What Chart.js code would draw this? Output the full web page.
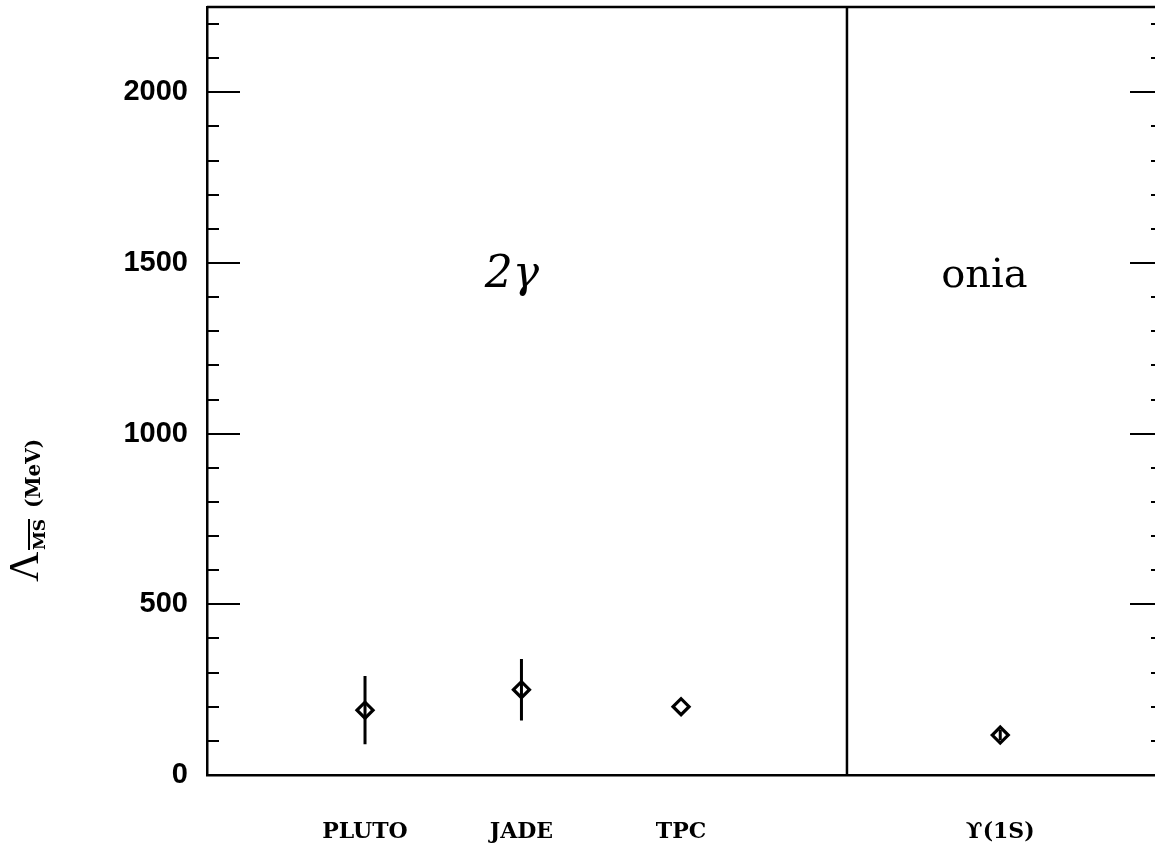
<!DOCTYPE html>
<html>
<head>
<meta charset="utf-8">
<script src="https://cdn.jsdelivr.net/npm/chart.js@4/dist/chart.umd.min.js"></script>
<style>
  html, body { margin: 0; padding: 0; background: #fff; overflow: hidden; }
  #wrap { width: 1170px; height: 855px; }
</style>
</head>
<body>
<div id="wrap"><canvas id="chart" width="1170" height="855"></canvas></div>
<script>
// Lambda (MS-bar) from two-photon and onia measurements
const experiments = ['PLUTO', 'JADE', 'TPC', '\u03D2(1S)'];
const xPos = [1.0, 1.99, 3.0, 5.02];
const lambda = [190, 250, 200, 117];
const errLow = [100, 90, 0, 15];
const errHigh = [100, 90, 0, 15];

// group headings and the line separating them
const groupLabels = ['2\u03B3', 'onia'];
const groupX = [1.93, 4.92];
const groupY = [1430, 1430];
const dividerX = 4.05;

const yMajor = [0, 500, 1000, 1500, 2000];
const yMin = 0;
const yMax = 2250;
const xMin = 0;
const xMax = 6.05;

const INK = '#000';

const points = xPos.map(function (x, i) { return { x: x, y: lambda[i] }; });

// frame, inward ticks on both sides, group divider
const framePlugin = {
  id: 'frame',
  afterDraw: function (chart) {
    var ctx = chart.ctx;
    var a = chart.chartArea;
    var ys = chart.scales.y;
    var xs = chart.scales.x;
    ctx.save();
    ctx.strokeStyle = INK;
    ctx.lineWidth = 2.5;
    ctx.beginPath();
    ctx.moveTo(a.left, a.top); ctx.lineTo(a.right, a.top);
    ctx.moveTo(a.right, a.top); ctx.lineTo(a.right, a.bottom);
    var dx = xs.getPixelForValue(dividerX);
    ctx.moveTo(dx, a.top); ctx.lineTo(dx, a.bottom);
    ctx.stroke();

    ctx.lineWidth = 2;
    ctx.beginPath();
    for (var v = 100; v < yMax; v += 100) {
      var py = Math.round(ys.getPixelForValue(v));
      var len = (v % 500 === 0) ? 33 : 12;
      ctx.moveTo(a.left, py); ctx.lineTo(a.left + len, py);
      ctx.moveTo(a.right, py); ctx.lineTo(a.right - len, py);
    }
    ctx.stroke();
    ctx.restore();
  }
};

// vertical error bars drawn over the open diamonds
const errorBarPlugin = {
  id: 'errorBars',
  afterDatasetsDraw: function (chart) {
    var ctx = chart.ctx;
    var xs = chart.scales.x;
    var ys = chart.scales.y;
    ctx.save();
    ctx.strokeStyle = INK;
    ctx.lineWidth = 3;
    ctx.beginPath();
    for (var i = 0; i < lambda.length; i++) {
      if (!errLow[i] && !errHigh[i]) continue;
      var px = xs.getPixelForValue(xPos[i]);
      ctx.moveTo(px, ys.getPixelForValue(lambda[i] + errHigh[i]));
      ctx.lineTo(px, ys.getPixelForValue(lambda[i] - errLow[i]));
    }
    ctx.stroke();
    ctx.restore();
  }
};

// "2γ" and "onia" headings
const groupLabelPlugin = {
  id: 'groupLabels',
  afterDraw: function (chart) {
    var ctx = chart.ctx;
    var xs = chart.scales.x;
    var ys = chart.scales.y;
    var fonts = ['italic 44px "DejaVu Serif"', '40px "DejaVu Serif"'];
    ctx.save();
    ctx.fillStyle = INK;
    ctx.textAlign = 'center';
    ctx.textBaseline = 'alphabetic';
    groupLabels.forEach(function (t, i) {
      ctx.font = fonts[i];
      ctx.fillText(t, xs.getPixelForValue(groupX[i]), ys.getPixelForValue(groupY[i]));
    });
    ctx.restore();
  }
};

// rotated axis title: Λ with overlined MS subscript, then (MeV)
const yTitlePlugin = {
  id: 'yTitle',
  afterDraw: function (chart) {
    var ctx = chart.ctx;
    ctx.save();
    ctx.translate(38, 582);
    ctx.rotate(-Math.PI / 2);
    ctx.fillStyle = INK;
    ctx.strokeStyle = INK;
    ctx.textBaseline = 'alphabetic';
    ctx.textAlign = 'left';

    ctx.font = '42px "Liberation Serif"';
    ctx.fillText('\u039B', 0, 0);

    ctx.font = 'bold 17px "DejaVu Serif"';
    var sub = 'MS';
    var sw = ctx.measureText(sub).width;
    ctx.fillText(sub, 32, 7);
    ctx.lineWidth = 2;
    ctx.beginPath();
    ctx.moveTo(32, -9); ctx.lineTo(32 + sw, -9);
    ctx.stroke();

    ctx.font = 'bold 20px "DejaVu Serif"';
    ctx.fillText('(MeV)', 74, 2);
    ctx.restore();
  }
};

new Chart(document.getElementById('chart'), {
  type: 'scatter',
  data: {
    datasets: [{
      data: points,
      pointStyle: 'rectRot',
      pointRadius: 8,
      pointHoverRadius: 8,
      borderWidth: 3.2,
      borderColor: INK,
      backgroundColor: 'rgba(0,0,0,0)',
      showLine: false,
    }],
  },
  options: {
    responsive: false,
    animation: false,
    events: [],
    layout: { autoPadding: false, padding: { top: 7, right: 7, left: 0, bottom: 0 } },
    plugins: {
      legend: { display: false },
      tooltip: { enabled: false },
    },
    scales: {
      x: {
        type: 'linear',
        min: xMin,
        max: xMax,
        afterBuildTicks: function (scale) {
          scale.ticks = xPos.map(function (v) { return { value: v }; });
        },
        afterFit: function (scale) {
          scale.height = 80;
          scale.paddingLeft = 0;
          scale.paddingRight = 0;
        },
        grid: { display: false, drawTicks: false },
        border: { display: true, color: INK, width: 2.5 },
        ticks: {
          autoSkip: false,
          maxRotation: 0,
          padding: 44,
          color: INK,
          font: { family: 'DejaVu Serif', size: 22, weight: 'bold' },
          callback: function (v, i) { return experiments[i]; },
        },
      },
      y: {
        type: 'linear',
        min: yMin,
        max: yMax,
        afterBuildTicks: function (scale) {
          scale.ticks = yMajor.map(function (v) { return { value: v }; });
        },
        afterFit: function (scale) {
          scale.width = 207;
          scale.paddingTop = 0;
          scale.paddingBottom = 0;
        },
        grid: { display: false, drawTicks: false },
        border: { display: true, color: INK, width: 2.5 },
        ticks: {
          padding: 19,
          color: INK,
          font: { family: 'Liberation Sans', size: 29, weight: 'bold' },
          callback: function (v) { return String(v); },
        },
      },
    },
  },
  plugins: [framePlugin, errorBarPlugin, groupLabelPlugin, yTitlePlugin],
});
</script>
</body>
</html>
